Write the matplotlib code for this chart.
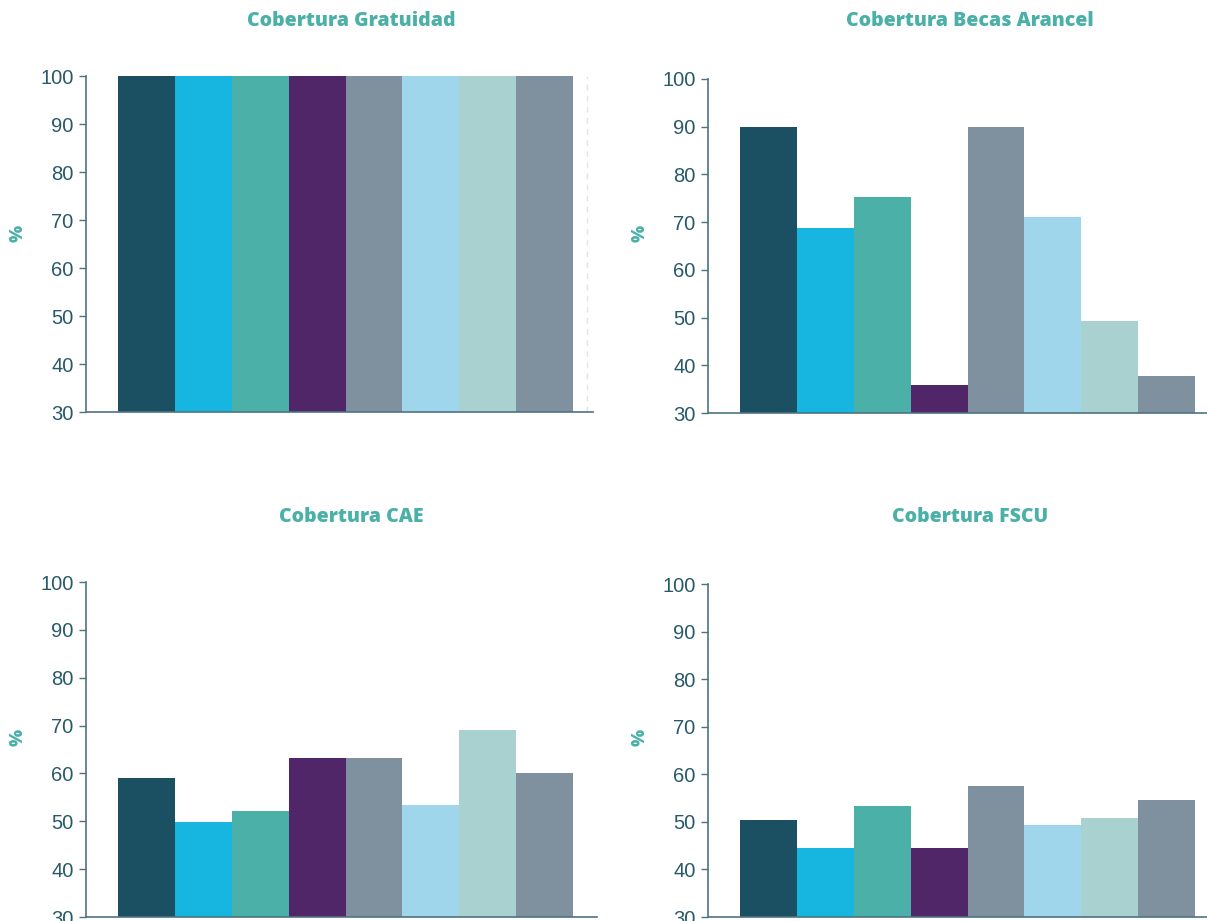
import numpy as np
import matplotlib.pyplot as plt

plt.rcParams['font.family'] = ['Liberation Sans', 'DejaVu Sans']

titles = ['Cobertura Gratuidad', 'Cobertura Becas Arancel', 'Cobertura CAE', 'Cobertura FSCU']
gratuidad = [100, 100, 100, 100, 100, 100, 100, 100]
becas = [90, 68.8, 75.3, 35.9, 90, 71.1, 49.3, 37.8]
cae = [59.1, 49.8, 52.2, 63.3, 63.3, 53.4, 69.1, 60.1]
fscu = [50.3, 44.5, 53.3, 44.5, 57.5, 49.4, 50.8, 54.6]
series = [gratuidad, becas, cae, fscu]
yticks = [30, 40, 50, 60, 70, 80, 90, 100]

bar_colors = ['#1B5062', '#17B6E0', '#4AB0A8', '#502668',
              '#7F919E', '#A0D6EC', '#A8D1CF', '#7F919E']
title_color = '#4AB0A8'
tick_color = '#28596A'
spine_color = '#4F7283'

W, H = 1207, 921
fig = plt.figure(figsize=(W / 100, H / 100), dpi=100)

# axes boxes in pixels: left, top(100), right, bottom(30)
boxes = [(86, 76, 593, 412), (708, 79, 1207, 413),
         (86, 582, 597, 917), (708, 584, 1207, 917)]
title_pos = [(351, 21), (970, 21), (351, 517), (970, 517)]
pct_pos = [(18, 233), (640, 233), (18, 737), (640, 737)]

for i, (vals, title) in enumerate(zip(series, titles)):
    l, t, r, b = boxes[i]
    ax = fig.add_axes([l / W, 1 - b / H, (r - l) / W, (b - t) / H])
    x = np.arange(len(vals))
    ax.bar(x, np.array(vals) - 30, bottom=30, width=1.0, color=bar_colors)
    px_unit = 455 / 8
    ax.set_xlim(-0.5 - 32 / px_unit, -0.5 + (r - l - 32) / px_unit)
    ax.set_ylim(30, 100)
    ax.set_yticks(yticks)
    ax.set_xticks([])
    for s in ['top', 'right']:
        ax.spines[s].set_visible(False)
    for s in ['left', 'bottom']:
        ax.spines[s].set_color(spine_color)
        ax.spines[s].set_linewidth(1.2)
    ax.tick_params(axis='y', colors=spine_color, labelcolor=tick_color,
                   labelsize=14.5, length=5, width=1, pad=4)
    if i == 0:
        ax.axvline(7.74, color='#E4E4E4', linestyle=(0, (4, 4)), linewidth=1)
    fig.text(pct_pos[i][0] / W, 1 - pct_pos[i][1] / H, '%', rotation=90,
             ha='center', va='center', color=title_color,
             fontsize=13, fontweight='extra bold', family=['Open Sans', 'DejaVu Sans'])
    fig.text(title_pos[i][0] / W, 1 - title_pos[i][1] / H, title,
             ha='center', va='center', color=title_color,
             fontsize=14, fontweight='extra bold', family=['Open Sans', 'DejaVu Sans'])

fig.savefig('out.png', dpi=100)
